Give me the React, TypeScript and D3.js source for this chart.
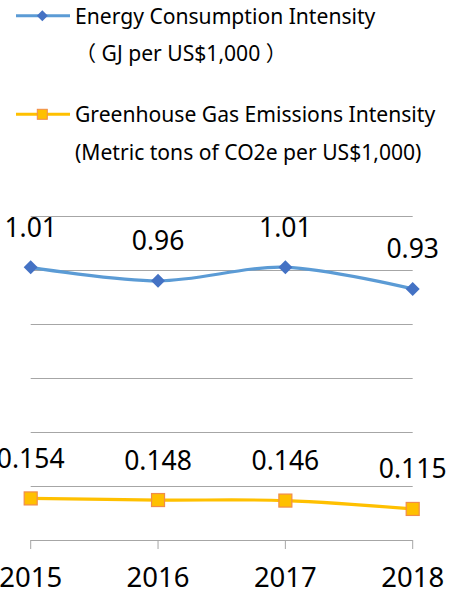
import React from "react";
import * as d3 from "d3";

const years = ["2015", "2016", "2017", "2018"];
const energy = [1.01, 0.96, 1.01, 0.93];
const ghg = [0.154, 0.148, 0.146, 0.115];
const gridTicks = [0.2, 0.4, 0.6, 0.8, 1.0, 1.2];
const energyLabel = ["Energy Consumption Intensity", "（ GJ per US$1,000 ）"];
const ghgLabel = ["Greenhouse Gas Emissions Intensity", "(Metric tons of CO2e per US$1,000)"];

const W = 451;
const H = 593;
const FONT = "'Noto Sans', sans-serif";
const BLUE_LINE = "#5B9BD5";
const BLUE_MARK = "#4472C4";
const GOLD = "#FFC000";
const GOLD_EDGE = "#F08C4A";
const LEG_FS = 21.1;

export default function App() {
  const x = d3.scalePoint<string>().domain(years).range([30.7, 412.7]);
  const y = d3.scaleLinear().domain([0, 1.2]).range([540, 216]);
  const line = d3
    .line<number>()
    .x((_, i) => x(years[i]) as number)
    .y((d) => y(d))
    .curve(d3.curveCardinal.tension(0));

  const diamond = (cx: number, cy: number, r: number) =>
    `M${cx},${cy - r}L${cx + r},${cy}L${cx},${cy + r}L${cx - r},${cy}Z`;

  return (
    <svg
      width={W}
      height={H}
      style={{ position: "absolute", left: 0, top: 0, background: "#fff" }}
      fontFamily={FONT}
    >
      {/* Legend */}
      <line x1={16} x2={70} y1={15.7} y2={15.7} stroke={BLUE_LINE} strokeWidth={3} />
      <path d={diamond(42.3, 15.7, 5.5)} fill={BLUE_MARK} />
      <text x={75} y={24} fontSize={LEG_FS} fill="#000">{energyLabel[0]}</text>
      <text x={75} y={60.5} fontSize={LEG_FS} fill="#000">
        <tspan fontFamily="'Noto Sans CJK TC'">（</tspan>
        {" GJ per US$1,000 "}
        <tspan fontFamily="'Noto Sans CJK TC'">）</tspan>
      </text>

      <line x1={16} x2={70} y1={114.3} y2={114.3} stroke={GOLD} strokeWidth={3} />
      <rect x={37.3} y={109.3} width={10} height={10} fill={GOLD} stroke={GOLD_EDGE} strokeWidth={1} />
      <text x={75} y={122} fontSize={LEG_FS} fill="#000">{ghgLabel[0]}</text>
      <text x={75} y={160} fontSize={LEG_FS} fill="#000">{ghgLabel[1]}</text>

      {/* Gridlines */}
      {gridTicks.map((t) => (
        <line key={t} x1={30.7} x2={412.7} y1={Math.round(y(t)) + 0.5} y2={Math.round(y(t)) + 0.5} stroke="#A6A6A6" strokeWidth={1} />
      ))}
      {/* X axis */}
      <line x1={30.7} x2={412.7} y1={540.5} y2={540.5} stroke="#A6A6A6" strokeWidth={1} />
      {years.map((yr) => (
        <line key={yr} x1={x(yr)} x2={x(yr)} y1={540} y2={549} stroke="#A6A6A6" strokeWidth={1} />
      ))}
      {years.map((yr) => (
        <text key={yr} x={x(yr)} y={587} fontSize={27.5} textAnchor="middle" fill="#000">{yr}</text>
      ))}

      {/* Energy series */}
      <path d={line(energy) || ""} fill="none" stroke={BLUE_LINE} strokeWidth={3.2} strokeLinecap="round" />
      {energy.map((v, i) => (
        <path key={i} d={diamond(x(years[i]) as number, y(v), 7)} fill={BLUE_MARK} />
      ))}
      {energy.map((v, i) => (
        <text key={i} x={x(years[i])} y={y(v) - 30.5} fontSize={26.5} textAnchor="middle" fill="#000">{v.toFixed(2)}</text>
      ))}

      {/* GHG series */}
      <path d={line(ghg) || ""} fill="none" stroke={GOLD} strokeWidth={3.2} strokeLinecap="round" />
      {ghg.map((v, i) => (
        <rect key={i} x={(x(years[i]) as number) - 6.5} y={y(v) - 6.5} width={13} height={13} fill={GOLD} stroke={GOLD_EDGE} strokeWidth={1.2} />
      ))}
      {ghg.map((v, i) => (
        <text key={i} x={x(years[i])} y={y(v) - 30.5} fontSize={26.5} textAnchor="middle" fill="#000">{v.toFixed(3)}</text>
      ))}
    </svg>
  );
}
